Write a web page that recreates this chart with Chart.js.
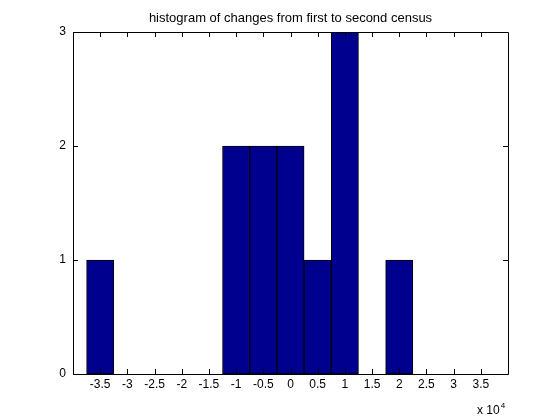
<!DOCTYPE html>
<html lang="en">
<head>
    <meta charset="UTF-8">
    <title>histogram of changes from first to second census</title>
    <script src="https://cdn.jsdelivr.net/npm/chart.js"></script>
    <style>
        body {
            margin: 0;
            padding: 0;
            background-color: #fff;
        }
        #wrap {
            width: 560px;
            height: 420px;
        }
    </style>
</head>
<body>
    <div id="wrap"><canvas id="hist-chart"></canvas></div>

    <script>
        // bin centres (raw values), counts per bin, axis ticks
        var binCenters = [-35000, -30000, -25000, -20000, -15000, -10000, -5000, 0, 5000, 10000, 15000, 20000];
        var binCounts = [1, 0, 0, 0, 0, 2, 2, 2, 1, 3, 0, 1];
        var xTicks = [-35000, -30000, -25000, -20000, -15000, -10000, -5000, 0, 5000, 10000, 15000, 20000, 25000, 30000, 35000];
        var yTicks = [0, 1, 2, 3];
        var titleText = 'histogram of changes from first to second census';

        var points = [];
        binCenters.forEach(function(c, i) {
            points.push({x: c, y: binCounts[i] === 0 ? null : binCounts[i]});
        });

        var fontFam = '"Liberation Sans", Arial, sans-serif';

        // box round the axes with inward ticks on all four sides, title, and the x 10^4 note
        var matlabAxes = {
            id: 'matlabAxes',
            afterDraw: function(chart) {
                var ctx = chart.ctx;
                var a = chart.chartArea;
                var xs = chart.scales.x;
                var ys = chart.scales.y;
                var tl = 5;
                ctx.save();
                ctx.strokeStyle = '#000';
                ctx.lineWidth = 1;
                ctx.beginPath();
                ctx.rect(Math.round(a.left) + 0.5, Math.round(a.top) + 0.5,
                         Math.round(a.right - a.left), Math.round(a.bottom - a.top));
                xTicks.forEach(function(v) {
                    var px = Math.round(xs.getPixelForValue(v)) + 0.5;
                    ctx.moveTo(px, a.bottom);
                    ctx.lineTo(px, a.bottom - tl);
                    ctx.moveTo(px, a.top);
                    ctx.lineTo(px, a.top + tl);
                });
                yTicks.forEach(function(v) {
                    var py = Math.round(ys.getPixelForValue(v)) + 0.5;
                    ctx.moveTo(a.left, py);
                    ctx.lineTo(a.left + tl, py);
                    ctx.moveTo(a.right, py);
                    ctx.lineTo(a.right - tl, py);
                });
                ctx.stroke();

                ctx.fillStyle = '#000';
                // title centred over the axes
                ctx.font = '13px ' + fontFam;
                ctx.textAlign = 'center';
                ctx.textBaseline = 'alphabetic';
                ctx.fillText(titleText, (a.left + a.right) / 2, 22);

                ctx.textAlign = 'left';
                ctx.font = '12px ' + fontFam;
                var base = 'x 10';
                var bx = 477;
                var by = 414;
                ctx.fillText(base, bx, by);
                var w = ctx.measureText(base).width;
                ctx.font = '8px ' + fontFam;
                ctx.fillText('4', bx + w + 1, by - 6);
                ctx.restore();
            }
        };

        var ctx = document.getElementById('hist-chart').getContext('2d');
        var histChart = new Chart(ctx, {
            type: 'bar',
            data: {
                datasets: [{
                    label: 'count',
                    data: points,
                    backgroundColor: '#00008f',
                    borderColor: '#000',
                    borderWidth: 1,
                    borderSkipped: false,
                    barPercentage: 1.0,
                    categoryPercentage: 1.0
                }]
            },
            options: {
                responsive: true,
                maintainAspectRatio: false,
                animation: false,
                layout: {
                    padding: {top: 32, left: 0, right: 52, bottom: 0}
                },
                plugins: {
                    legend: {display: false},
                    tooltip: {enabled: false},
                    title: {display: false}
                },
                scales: {
                    x: {
                        type: 'linear',
                        offset: false,
                        min: -40000,
                        max: 40000,
                        grid: {display: false, drawTicks: false},
                        border: {display: false},
                        afterBuildTicks: function(scale) {
                            scale.ticks = xTicks.map(function(v) { return {value: v}; });
                        },
                        afterFit: function(scale) {
                            scale.height = 46;
                            scale.paddingLeft = 0;
                            scale.paddingRight = 0;
                        },
                        ticks: {
                            color: '#000',
                            padding: 3,
                            maxRotation: 0,
                            autoSkip: false,
                            font: {family: fontFam, size: 12},
                            callback: function(v) { return String(v / 10000); }
                        }
                    },
                    y: {
                        min: 0,
                        max: 3,
                        grid: {display: false, drawTicks: false},
                        border: {display: false},
                        afterBuildTicks: function(scale) {
                            scale.ticks = yTicks.map(function(v) { return {value: v}; });
                        },
                        afterFit: function(scale) {
                            scale.width = 73;
                            scale.paddingTop = 0;
                            scale.paddingBottom = 0;
                        },
                        ticks: {
                            color: '#000',
                            padding: 7,
                            font: {family: fontFam, size: 12}
                        }
                    }
                }
            },
            plugins: [matlabAxes]
        });
    </script>
</body>
</html>
